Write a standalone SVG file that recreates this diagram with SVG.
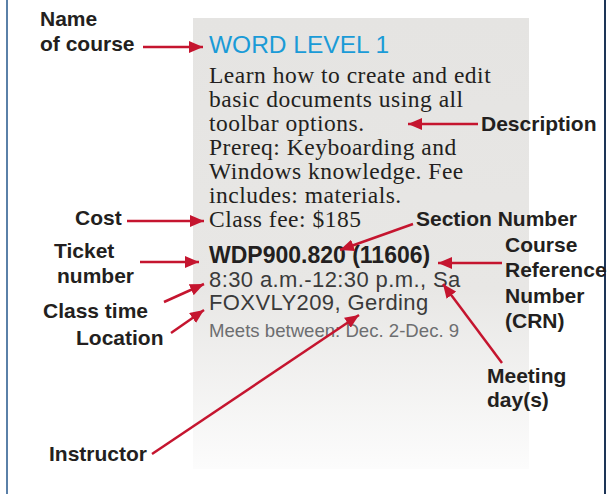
<svg xmlns="http://www.w3.org/2000/svg" width="614" height="494" viewBox="0 0 614 494">
<defs>
<linearGradient id="cardGrad" x1="0" y1="0" x2="0" y2="1">
<stop offset="0" stop-color="#e5e4e2"/>
<stop offset="0.6" stop-color="#e8e7e5"/>
<stop offset="1" stop-color="#fcfcfc"/>
</linearGradient>
<marker id="ah" viewBox="0 0 14 12" refX="14" refY="6" markerWidth="14" markerHeight="12" markerUnits="userSpaceOnUse" orient="auto">
<path d="M0,0 L14,6 L0,12 Z" fill="#c5152f"/>
</marker>
<style>
.lbl{font-family:"Liberation Sans",Arial,sans-serif;font-weight:bold;font-size:21px;fill:#231f20}
.ser{font-family:"Liberation Serif","Times New Roman",serif;font-size:23.5px;letter-spacing:0.5px;fill:#231f20}
.sans{font-family:"Liberation Sans",Arial,sans-serif;font-size:22px;letter-spacing:0.4px;fill:#3a3a3a}
.conn line{stroke:#c5152f;stroke-width:2.5;marker-end:url(#ah)}
</style>
</defs>
<rect width="614" height="494" fill="#ffffff"/>
<line x1="7" y1="0" x2="7" y2="494" stroke="#5a80a8" stroke-width="2"/>
<line x1="605" y1="0" x2="605" y2="494" stroke="#1d3557" stroke-width="2"/>
<g id="card">
<rect x="193" y="18" width="336" height="451" fill="url(#cardGrad)"/>
<text x="209" y="53" font-family="Liberation Sans, Arial, sans-serif" font-size="24.5" fill="#1a9bd7">WORD LEVEL 1</text>
<text class="ser" x="209" y="83">Learn how to create and edit</text>
<text class="ser" x="209" y="107">basic documents using all</text>
<text class="ser" x="209" y="131">toolbar options.</text>
<text class="ser" x="209" y="155">Prereq: Keyboarding and</text>
<text class="ser" x="209" y="179">Windows knowledge. Fee</text>
<text class="ser" x="209" y="203">includes: materials.</text>
<text class="ser" x="209" y="227">Class fee: $185</text>
<text x="209" y="263" font-family="Liberation Sans, Arial, sans-serif" font-size="23" font-weight="bold" fill="#231f20">WDP900.820 (11606)</text>
<text class="sans" x="209" y="287">8:30 a.m.-12:30 p.m., Sa</text>
<text class="sans" x="209" y="310">FOXVLY209, Gerding</text>
<text x="209" y="337" font-family="Liberation Sans, Arial, sans-serif" font-size="18.6" fill="#6d6e70">Meets between: Dec. 2-Dec. 9</text>
</g>
<g id="label-name"><text class="lbl" x="40" y="26">Name</text><text class="lbl" x="40" y="51">of course</text></g>
<g id="label-description"><text class="lbl" x="481" y="131">Description</text></g>
<g id="label-cost"><text class="lbl" x="75" y="225">Cost</text></g>
<g id="label-section"><text class="lbl" x="416" y="226">Section Number</text></g>
<g id="label-ticket"><text class="lbl" x="54" y="258">Ticket</text><text class="lbl" x="57" y="283">number</text></g>
<g id="label-crn"><text class="lbl" x="505" y="252">Course</text><text class="lbl" x="505" y="277">Reference</text><text class="lbl" x="505" y="303">Number</text><text class="lbl" x="505" y="328">(CRN)</text></g>
<g id="label-classtime"><text class="lbl" x="43" y="318">Class time</text></g>
<g id="label-location"><text class="lbl" x="76" y="345">Location</text></g>
<g id="label-meeting"><text class="lbl" x="487" y="383">Meeting</text><text class="lbl" x="487" y="407">day(s)</text></g>
<g id="label-instructor"><text class="lbl" x="49" y="461">Instructor</text></g>
<g id="connectors" class="conn">
<line x1="143" y1="47" x2="203" y2="47"/>
<line x1="478" y1="124" x2="408" y2="124"/>
<line x1="127" y1="221" x2="204" y2="221"/>
<line x1="413" y1="224" x2="340" y2="250"/>
<line x1="140" y1="262" x2="199" y2="262"/>
<line x1="502" y1="263" x2="438" y2="263"/>
<line x1="164" y1="302" x2="204" y2="284"/>
<line x1="171" y1="333" x2="204" y2="310"/>
<line x1="152" y1="454" x2="359" y2="315"/>
<line x1="502" y1="363" x2="443" y2="284"/>
</g>
</svg>
